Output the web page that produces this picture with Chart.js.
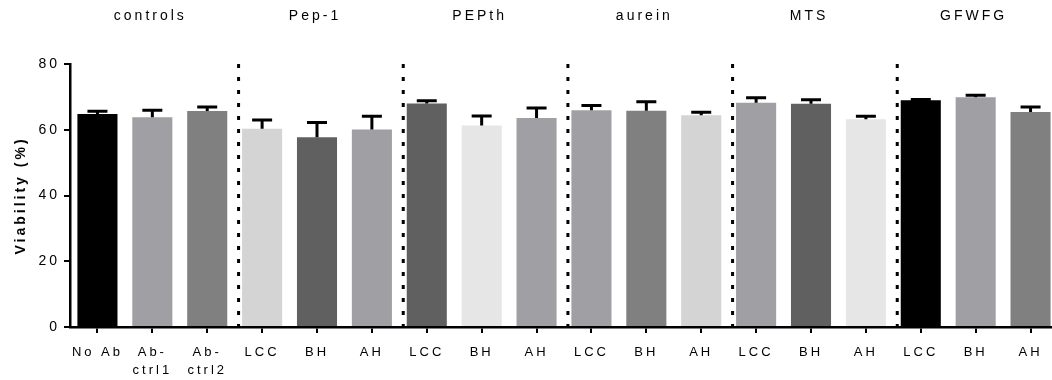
<!DOCTYPE html>
<html>
<head>
<meta charset="utf-8">
<script src="https://cdn.jsdelivr.net/npm/chart.js@4.4.1/dist/chart.umd.min.js"></script>
<style>
  html, body { margin: 0; padding: 0; background: #fff; overflow: hidden; }
  #wrap { width: 1062px; height: 380px; }
</style>
</head>
<body>
<div id="wrap"><canvas id="viabilityChart"></canvas></div>
<script>
const categories = [
    ['No Ab'], ['Ab-', 'ctrl1'], ['Ab-', 'ctrl2'],
    'LCC', 'BH', 'AH',
    'LCC', 'BH', 'AH',
    'LCC', 'BH', 'AH',
    'LCC', 'BH', 'AH',
    'LCC', 'BH', 'AH'
];
const groups = ['controls', 'Pep-1', 'PEPth', 'aurein', 'MTS', 'GFWFG'];
const viability = [64.8, 63.8, 65.7, 60.3, 57.7, 60.1, 68.0, 61.3, 63.6, 65.9, 65.8, 64.4, 68.2, 67.9, 63.2, 69.0, 69.9, 65.4];
const sem = [0.8, 2.1, 1.2, 2.7, 4.5, 4.0, 0.8, 2.9, 3.0, 1.5, 2.7, 0.9, 1.5, 1.2, 0.9, 0.2, 0.6, 1.5];
const barColors = [
    '#000000', '#a0a0a4', '#808080',
    '#d4d4d4', '#606060', '#a0a0a4',
    '#606060', '#e6e6e6', '#a0a0a4',
    '#a0a0a4', '#808080', '#d4d4d4',
    '#a0a0a4', '#606060', '#e6e6e6',
    '#000000', '#a0a0a4', '#808080'
];
const yTicks = [0, 20, 40, 60, 80];

const FONT = '"Liberation Sans", Arial, sans-serif';

/* spacing between letters, like the GraphPad export */
const spacingPlugin = {
    id: 'spacing',
    beforeLayout(chart) { chart.ctx.letterSpacing = '3px'; },
    beforeDraw(chart) { chart.ctx.letterSpacing = '3px'; }
};

/* upper error bars with caps */
const errorBars = {
    id: 'errorBars',
    afterDatasetsDraw(chart) {
        const ctx = chart.ctx;
        const y = chart.scales.y;
        const meta = chart.getDatasetMeta(0);
        ctx.save();
        ctx.strokeStyle = '#000';
        ctx.lineWidth = 3;
        meta.data.forEach((bar, i) => {
            const top = y.getPixelForValue(viability[i] + sem[i]);
            ctx.beginPath();
            ctx.moveTo(bar.x, bar.y);
            ctx.lineTo(bar.x, top);
            ctx.moveTo(bar.x - 10, top);
            ctx.lineTo(bar.x + 10, top);
            ctx.stroke();
        });
        ctx.restore();
    }
};

/* dashed separators and group names on top */
const groupPlugin = {
    id: 'groups',
    afterDraw(chart) {
        const ctx = chart.ctx;
        const area = chart.chartArea;
        const meta = chart.getDatasetMeta(0);
        ctx.save();
        ctx.strokeStyle = '#000';
        ctx.lineWidth = 3;
        ctx.setLineDash([4, 9]);
        for (let g = 1; g < groups.length; g++) {
            const bar = meta.data[g * 3];
            const x = bar.x - bar.width / 2 - 3.5;
            ctx.beginPath();
            ctx.moveTo(x, area.top);
            ctx.lineTo(x, area.bottom);
            ctx.stroke();
        }
        ctx.setLineDash([]);
        ctx.fillStyle = '#000';
        ctx.font = '14px ' + FONT;
        ctx.letterSpacing = '3px';
        ctx.textAlign = 'center';
        ctx.textBaseline = 'middle';
        groups.forEach((name, g) => {
            const mid = meta.data[g * 3 + 1];
            ctx.fillText(name, mid.x - 2, 16);
        });
        ctx.restore();
    }
};

const ctx = document.getElementById('viabilityChart').getContext('2d');
new Chart(ctx, {
    type: 'bar',
    data: {
        labels: categories,
        datasets: [{
            data: viability,
            backgroundColor: barColors,
            borderWidth: 0,
            categoryPercentage: 1,
            barPercentage: 0.73
        }]
    },
    options: {
        responsive: true,
        maintainAspectRatio: false,
        animation: false,
        layout: { padding: { top: 64, left: 0, right: 4, bottom: 0 } },
        plugins: {
            legend: { display: false },
            tooltip: { enabled: false }
        },
        scales: {
            x: {
                grid: { display: true, drawOnChartArea: false, offset: false, tickLength: 6, lineWidth: 2, color: '#000' },
                border: { display: true, color: '#000', width: 2.5 },
                ticks: {
                    color: '#000', font: { family: FONT, size: 13, lineHeight: 1.35 }, padding: 11,
                    maxRotation: 0, autoSkip: false
                },
                afterFit(scale) { scale.height = 53; }
            },
            y: {
                min: 0, max: 80,
                afterBuildTicks(scale) { scale.ticks = yTicks.map(v => ({ value: v })); },
                grid: { display: true, drawOnChartArea: false, tickLength: 6, lineWidth: 2, color: '#000' },
                border: { display: true, color: '#000', width: 2.5 },
                ticks: { color: '#000', font: { family: FONT, size: 14 }, padding: 4 },
                title: {
                    display: true, text: 'Viability (%)', color: '#000',
                    font: { family: FONT, size: 14, weight: 'bold' },
                    padding: { top: 13, bottom: 0 }
                },
                afterFit(scale) { scale.width = 70; }
            }
        }
    },
    plugins: [spacingPlugin, errorBars, groupPlugin]
});
</script>
</body>
</html>
